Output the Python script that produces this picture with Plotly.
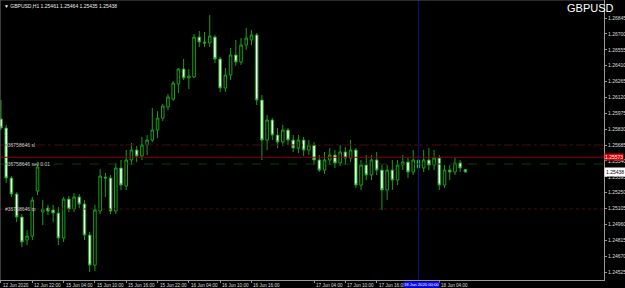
import plotly.graph_objects as go

# ---- data (GBPUSD H1) ----
opens = [1.25922,1.25840,1.25383,1.25237,1.25027,1.24817,1.24853,1.25264,1.25073,1.25109,
         1.25091,1.25063,1.24835,1.25191,1.25100,1.25210,1.25146,1.24862,1.24588,1.25082,
         1.25392,1.25383,1.25082,1.25475,1.25310,1.25548,1.25639,1.25584,1.25685,1.25730,
         1.25822,1.25931,1.26032,1.26105,1.26242,1.26379,1.26297,1.26306,1.26671,1.26626,
         1.26617,1.26671,1.26471,1.26206,1.26324,1.26507,1.26443,1.26598,1.26644,1.26690,
         1.26096,1.25730,1.25913,1.25776,1.25712,1.25822,1.25730,1.25657,1.25730,1.25639,
         1.25685,1.25548,1.25456,1.25548,1.25593,1.25520,1.25621,1.25566,1.25639,1.25319,
         1.25502,1.25411,1.25548,1.25456,1.25274,1.25456,1.25365,1.25502,1.25529,1.25438,
         1.25548,1.25475,1.25548,1.25502,1.25566,1.25319,1.25456,1.25438,1.25520,1.25461]
highs = [1.26096,1.25867,1.25401,1.25255,1.25054,1.24908,1.25210,1.25502,1.25182,1.25137,
         1.25137,1.25118,1.25210,1.25219,1.25246,1.25237,1.25182,1.24890,1.25137,1.25465,
         1.25429,1.25411,1.25520,1.25548,1.25639,1.25703,1.25675,1.25758,1.25776,1.26023,
         1.25995,1.26059,1.26151,1.26269,1.26388,1.26471,1.26379,1.26699,1.26726,1.26717,
         1.26872,1.26690,1.26489,1.26388,1.26571,1.26644,1.26662,1.26754,1.26735,1.26708,
         1.26142,1.25959,1.25931,1.25840,1.25867,1.25840,1.25776,1.25776,1.25758,1.25730,
         1.25712,1.25593,1.25621,1.25657,1.25639,1.25685,1.25666,1.25730,1.25657,1.25548,
         1.25593,1.25593,1.25621,1.25502,1.25502,1.25548,1.25548,1.25593,1.25566,1.25639,
         1.25593,1.25639,1.25657,1.25639,1.25593,1.25502,1.25502,1.25566,1.25548,1.25464]
lows = [1.25822,1.25338,1.25210,1.24981,1.24753,1.24771,1.24817,1.25228,1.24954,1.25045,
        1.24981,1.24771,1.24799,1.25073,1.25073,1.25109,1.24817,1.24525,1.24534,1.25054,
        1.25210,1.25054,1.25054,1.25274,1.25274,1.25502,1.25529,1.25548,1.25593,1.25712,
        1.25749,1.25904,1.26004,1.26087,1.26160,1.26279,1.26196,1.26297,1.26580,1.26580,
        1.26580,1.26434,1.26169,1.26169,1.26279,1.26407,1.26416,1.26553,1.26598,1.26050,
        1.25548,1.25639,1.25730,1.25657,1.25675,1.25685,1.25621,1.25612,1.25584,1.25593,
        1.25502,1.25438,1.25420,1.25502,1.25475,1.25493,1.25502,1.25529,1.25292,1.25274,
        1.25365,1.25365,1.25411,1.25091,1.25182,1.25274,1.25319,1.25456,1.25383,1.25411,
        1.25182,1.25438,1.25456,1.25456,1.25274,1.25292,1.25365,1.25411,1.25438,1.25435]
closes = [1.25840,1.25383,1.25237,1.25027,1.24799,1.24853,1.25182,1.25484,1.25100,1.25082,
          1.25063,1.24835,1.25191,1.25100,1.25210,1.25146,1.24862,1.24588,1.25091,1.25401,
          1.25383,1.25082,1.25475,1.25319,1.25548,1.25639,1.25584,1.25685,1.25730,1.25822,
          1.25931,1.26041,1.26123,1.26251,1.26379,1.26297,1.26315,1.26671,1.26626,1.26617,
          1.26680,1.26471,1.26206,1.26324,1.26507,1.26443,1.26598,1.26662,1.26690,1.26096,
          1.25730,1.25913,1.25776,1.25712,1.25822,1.25730,1.25657,1.25730,1.25639,1.25685,
          1.25548,1.25456,1.25548,1.25593,1.25520,1.25621,1.25566,1.25639,1.25319,1.25502,
          1.25411,1.25548,1.25456,1.25274,1.25456,1.25365,1.25502,1.25529,1.25438,1.25548,
          1.25475,1.25548,1.25502,1.25566,1.25319,1.25456,1.25438,1.25520,1.25475,1.25438]
bar_index = list(range(len(opens)))

time_label_bars = [0, 6, 12, 18, 24, 30, 36, 42, 48, 60, 66, 72, 84]
time_labels = ["12 Jun 2020", "12 Jun 22:00", "15 Jun 04:00", "15 Jun 10:00", "15 Jun 16:00",
               "15 Jun 22:00", "16 Jun 04:00", "16 Jun 10:00", "16 Jun 16:00", "17 Jun 04:00",
               "17 Jun 10:00", "17 Jun 16:00", "18 Jun 04:00"]
price_ticks = [1.26845, 1.26700, 1.26555, 1.26410, 1.26265, 1.26120, 1.25975, 1.25830, 1.25685,
               1.25540, 1.25395, 1.25250, 1.25105, 1.24960, 1.24815, 1.24670, 1.24525]

sl_price = 1.25685
sell_price = 1.25511
tp_price = 1.25100
alert_price = 1.25573
bid_price = 1.25438
vline_bar = 80
vline_label = "18 Jun 2020 00:00"
order_id = "#36758646"
header = "GBPUSD,H1 1.25461 1.25464 1.25435 1.25438"

GREEN = "#17a017"
FONT = "Liberation Sans"

fig = go.Figure(go.Candlestick(
    x=bar_index, open=opens, high=highs, low=lows, close=closes,
    increasing=dict(line=dict(color=GREEN, width=1), fillcolor="black"),
    decreasing=dict(line=dict(color=GREEN, width=1), fillcolor="white"),
    whiskerwidth=0, showlegend=False, hoverinfo="skip"))

shapes = [
    dict(type="line", xref="paper", x0=0, x1=1, yref="y", y0=sl_price, y1=sl_price,
         line=dict(color="#4a0d0d", width=1, dash="dashdot")),
    dict(type="line", xref="paper", x0=0, x1=1, yref="y", y0=alert_price, y1=alert_price,
         line=dict(color="#8a0000", width=1)),
    dict(type="line", xref="paper", x0=0, x1=1, yref="y", y0=sell_price, y1=sell_price,
         line=dict(color="#0b3f0b", width=1, dash="dash")),
    dict(type="line", xref="paper", x0=0, x1=1, yref="y", y0=tp_price, y1=tp_price,
         line=dict(color="#4a0d0d", width=1, dash="dot")),
    dict(type="line", xref="x", x0=vline_bar, x1=vline_bar, yref="paper", y0=0, y1=1,
         line=dict(color="#0d0d86", width=1)),
    dict(type="line", xref="paper", x0=0, x1=0, yref="paper", y0=0, y1=1,
         line=dict(color="#777", width=1)),
    dict(type="line", xref="paper", x0=0, x1=1, yref="paper", y0=1, y1=1,
         line=dict(color="#555", width=1)),
]

small = dict(family=FONT, size=5, color="#dddddd")
xlab = dict(family=FONT, size=4.6, color="#dddddd")
ann = []
for b, t in zip(time_label_bars, time_labels):
    ann.append(dict(x=b, xref="x", y=-0.004, yref="paper", text=t, showarrow=False,
                    xanchor="left", yanchor="top", font=xlab))
ann.append(dict(x=vline_bar + 0.55, xref="x", y=-0.004, yref="paper", text=vline_label,
                showarrow=False, xanchor="center", yanchor="top", bgcolor="#0a0aff", borderpad=0,
                font=dict(family=FONT, size=4.2, color="white")))
ann.append(dict(x=1.0, xref="paper", y=alert_price, yref="y", text=f"{alert_price:.5f}",
                showarrow=False, xanchor="left", yanchor="middle", bgcolor="#e00000",
                borderpad=0, font=dict(family=FONT, size=5, color="white")))
ann.append(dict(x=1.0, xref="paper", y=bid_price, yref="y", text=f"{bid_price:.5f}",
                showarrow=False, xanchor="left", yanchor="middle", bgcolor="white",
                borderpad=1, font=dict(family=FONT, size=5, color="black")))
for p, t in [(sl_price, order_id + " sl"), (sell_price, order_id + " sell 0.01"),
             (tp_price, order_id + " tp")]:
    ann.append(dict(x=0.005, xref="paper", y=p, yref="y", text=t, showarrow=False,
                    xanchor="left", yanchor="middle", font=dict(family=FONT, size=5, color="#cccccc")))
ann.append(dict(x=0.003, xref="paper", y=0.995, yref="paper", text="▼ " + header, showarrow=False,
                xanchor="left", yanchor="top", font=dict(family=FONT, size=5, color="#eeeeee")))
ann.append(dict(x=1.02, xref="paper", y=1.0, yref="paper", text="GBPUSD", showarrow=False,
                xanchor="right", yanchor="top", font=dict(family=FONT, size=11, color="white")))

fig.update_layout(
    width=625, height=288, margin=dict(l=0, r=21, t=0, b=8),
    paper_bgcolor="black", plot_bgcolor="black",
    shapes=shapes, annotations=ann,
    xaxis=dict(range=[-0.19, 115.56], rangeslider=dict(visible=False), showgrid=False,
               zeroline=False, showticklabels=False, tickvals=time_label_bars,
               ticks="outside", ticklen=2, tickcolor="#999", showline=True, linecolor="#999"),
    yaxis=dict(side="right", range=[1.244519, 1.270094], tickvals=price_ticks,
               ticktext=[f"{v:.5f}" for v in price_ticks], tickfont=small,
               ticks="outside", ticklen=2, tickcolor="#999", showline=True, linecolor="#999",
               showgrid=False, zeroline=False),
)

fig.write_html("out.html", config={"displayModeBar": False})
